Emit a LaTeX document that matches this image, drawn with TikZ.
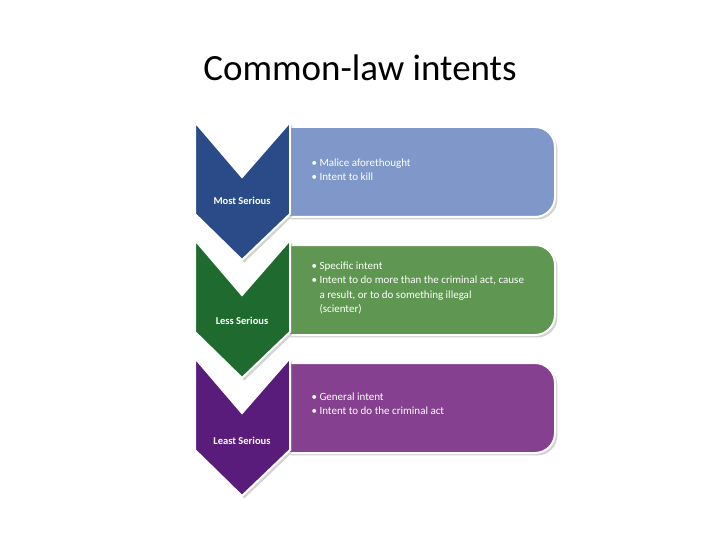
\documentclass[tikz,border=0pt]{standalone}
\usepackage{fontspec}
\setmainfont{Carlito}
\usetikzlibrary{shadows}
\definecolor{bdark}{HTML}{2A4B87}\definecolor{blite}{HTML}{7F97C9}
\definecolor{gdark}{HTML}{1F6B2F}\definecolor{glite}{HTML}{5F9652}
\definecolor{pdark}{HTML}{5A1C7B}\definecolor{plite}{HTML}{85408F}
\tikzset{
  chev/.style={draw=white,line width=2pt,drop shadow={opacity=0.35}},
  tbox/.style={draw=white,line width=2pt,drop shadow={opacity=0.35}},
  lab/.style={text=white,font=\fontsize{10.5}{12}\selectfont\bfseries},
  item/.style={text=white,anchor=north west,align=left,font=\fontsize{11}{14.5}\selectfont}
}
\begin{document}
\begin{tikzpicture}[x=1pt,y=-1pt]
\useasboundingbox[fill=white] (0,0) rectangle (720,540);
\node (title) at (360,68) {\fontsize{37}{40}\selectfont Common-law intents};
\foreach \t/\dk/\lt in {127/bdark/blite,245/gdark/glite,363/pdark/plite}{
  \path[tbox,fill=\lt] (288,\t) -- (535,\t) .. controls (546,\t) and (555,\t+9) .. (555,\t+20) -- (555,\t+70) .. controls (555,\t+81) and (546,\t+90) .. (535,\t+90) -- (288,\t+90) -- cycle;
  \path[chev,fill=\dk] (195,\t-5) -- (242,\t+50) -- (290,\t-5) -- (290,\t+87) -- (242,\t+133) -- (195,\t+87) -- cycle;
}
\node[lab] (la) at (242,201) {Most Serious};
\node[lab] (lb) at (242,321) {Less Serious};
\node[lab] (lc) at (242,441) {Least Serious};
\node[item] (ia) at (308,155) {• Malice aforethought\\• Intent to kill};
\node[item] (ib) at (308,258) {• Specific intent\\• Intent to do more than the criminal act, cause\\\phantom{• }a result, or to do something illegal\\\phantom{• }(scienter)};
\node[item] (ic) at (308,389) {• General intent\\• Intent to do the criminal act};
\end{tikzpicture}
\end{document}
